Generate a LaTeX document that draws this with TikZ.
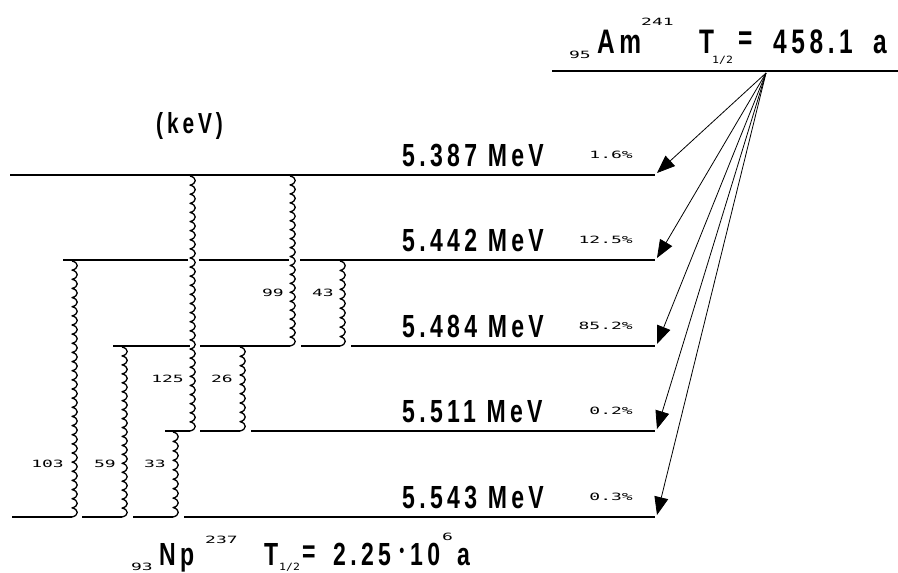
\documentclass[tikz,border=0pt]{standalone}
\usepackage{fontspec}
\usetikzlibrary{arrows.meta}
\newfontfamily\bigf[FakeStretch=0.72,LetterSpace=13.5]{Liberation Sans}
\newfontfamily\smf[FakeStretch=1.8]{DejaVu Sans Mono}
\newfontfamily\smn[FakeStretch=1.15]{DejaVu Sans Mono}
\newcommand\gamline[3]{%
  \pgfmathtruncatemacro\gn{round((#3-#2)/9)}%
  \pgfmathsetmacro\gs{(#3-#2)/\gn}%
  \draw[gam] (#1,#2) foreach \k in {1,...,\gn} { .. controls +(7,1.5) and +(7,-1.5) .. ++(0,\gs) };}
\begin{document}
\begin{tikzpicture}[x=1pt,y=-1pt,
  lvl/.style={line width=1.7pt},
  gam/.style={line width=1.3pt,line join=round},
  alf/.style={line width=0.8pt,-{Triangle[length=18pt,width=14pt]}},
  big/.style={inner sep=0pt,font=\bigf\bfseries\fontsize{32}{32}\selectfont},
  ttl/.style={inner sep=0pt,font=\bigf\bfseries\fontsize{34}{34}\selectfont},
  sml/.style={inner sep=0pt,font=\smf\fontsize{10}{10}\selectfont},
  smh/.style={inner sep=0pt,font=\smn\fontsize{10}{10}\selectfont}]
\useasboundingbox (0,0) rectangle (898,573);

% parent level
\coordinate (amL) at (552,71);
\coordinate (amR) at (898,71);
\coordinate (apex) at (766,73);
\draw[lvl] (amL) -- (amR);
\node[sml,anchor=base east] (z95) at (591,58) {95};
\node[ttl,anchor=base west] (am) at (597,53) {Am};
\node[sml,anchor=base west] (a241) at (641,25) {241};
\node[ttl,anchor=base west] (t1) at (699,53) {T};
\node[smh,anchor=base west] (h1) at (712,63) {1/2};
\node[ttl,anchor=base west] (eq1) at (738,49) {=};
\node[ttl,anchor=base west] (hl1) at (773,53) {458.1};
\node[ttl,anchor=base west] (ua) at (873,53) {a};

\node[big,anchor=base west,font=\bigf\bfseries\fontsize{29}{29}\selectfont] (kev) at (156,133) {(keV)};

% levels
\draw[lvl] (10,175) -- (655,175);
\draw[lvl] (63,260) -- (188,260) (199,260) -- (289,260) (300,260) -- (655,260);
\draw[lvl] (113,346) -- (190,346) (200,346) -- (290,346) (301,346) -- (340,346) (351,346) -- (655,346);
\draw[lvl] (165,431) -- (190,431) (200,431) -- (240,431) (251,431) -- (655,431);
\draw[lvl] (12,517) -- (72,517) (82,517) -- (122,517) (133,517) -- (173,517) (184,517) -- (655,517);

% level labels
\node[big,anchor=base west] (m1) at (402,166) {5.387 MeV};
\node[big,anchor=base west] (m2) at (402,251) {5.442 MeV};
\node[big,anchor=base west] (m3) at (402,337) {5.484 MeV};
\node[big,anchor=base west] (m4) at (402,422) {5.511 MeV};
\node[big,anchor=base west] (m5) at (402,508) {5.543 MeV};
\node[sml,anchor=base east] (p1) at (633,158) {1.6\%};
\node[sml,anchor=base east] (p2) at (633,243) {12.5\%};
\node[sml,anchor=base east] (p3) at (633,329) {85.2\%};
\node[sml,anchor=base east] (p4) at (633,414) {0.2\%};
\node[sml,anchor=base east] (p5) at (633,500) {0.3\%};

% alpha arrows
\coordinate (e1) at (657,173);
\coordinate (e2) at (657,258);
\coordinate (e3) at (657,344);
\coordinate (e4) at (657,429);
\coordinate (e5) at (657,515);
\foreach \e in {e1,e2,e3,e4,e5} \draw[alf] (apex) -- (\e);

% gamma transitions
\gamline{190}{176}{431}
\gamline{290}{176}{346}
\gamline{340}{261}{346}
\gamline{240}{347}{431}
\gamline{72}{261}{517}
\gamline{122}{347}{517}
\gamline{173}{432}{517}
\node[sml,anchor=east] (g125) at (184,379) {125};
\node[sml,anchor=east] (g26) at (233,379) {26};
\node[sml,anchor=east] (g99) at (284,293) {99};
\node[sml,anchor=east] (g43) at (334,293) {43};
\node[sml,anchor=east] (g103) at (64,464) {103};
\node[sml,anchor=east] (g59) at (116,464) {59};
\node[sml,anchor=east] (g33) at (166,464) {33};

% daughter
\node[sml,anchor=base east] (z93) at (153,570) {93};
\node[big,anchor=base west] (np) at (159,565) {Np};
\node[sml,anchor=base west] (a237) at (205,543) {237};
\node[big,anchor=base west] (t2) at (264,565) {T};
\node[smh,anchor=base west] (h2) at (279,570) {1/2};
\node[big,anchor=base west] (eq2) at (302,562) {=};
\node[big,anchor=base west] (hl2) at (333,565) {2.25};
\node[inner sep=0pt,font=\bigf\fontsize{20}{20}\selectfont] (dt) at (402,553) {•};
\node[big,anchor=base west] (ten) at (410,565) {10};
\node[sml,anchor=base west] (six) at (442,540) {6};
\node[big,anchor=base west] (ua2) at (457,565) {a};
\end{tikzpicture}
\end{document}
